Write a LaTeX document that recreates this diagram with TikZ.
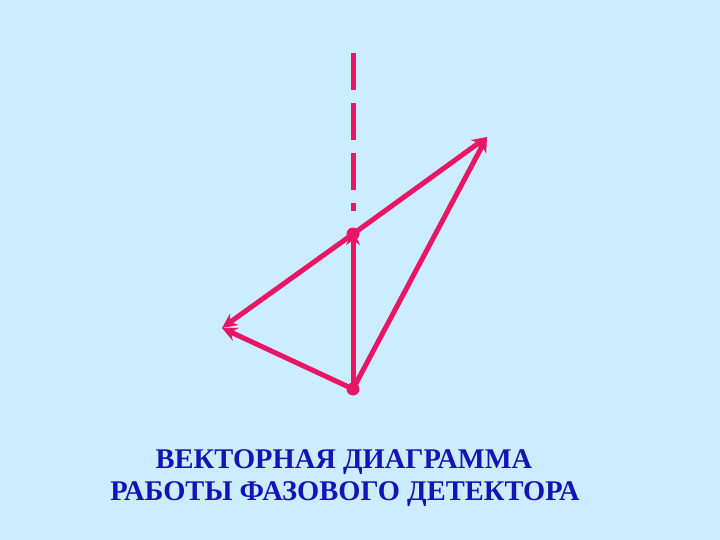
\documentclass[tikz,border=0pt]{standalone}
\usepackage{fontspec}
\setmainfont{Liberation Serif}
\usetikzlibrary{arrows.meta}
\definecolor{bg}{RGB}{204,236,255}
\definecolor{vec}{RGB}{232,22,100}
\definecolor{txt}{RGB}{20,20,180}
\tikzset{
  vecline/.style={draw=vec, line width=5pt, -{Stealth[length=15pt,width=14pt]}},
  plainline/.style={draw=vec, line width=5pt},
  dot/.style={circle, fill=vec, inner sep=0pt, minimum size=13pt},
  caption/.style={text=txt, font=\fontsize{28.5}{34}\selectfont\bfseries, align=center}
}
\begin{document}
\begin{tikzpicture}[x=1pt,y=-1pt]
\fill[bg] (0,0) rectangle (720,540);
\useasboundingbox (0,0) rectangle (720,540);
\coordinate (top) at (353,53);
\coordinate (dend) at (353,211);
\node[dot] (o1) at (353,234) {};
\node[dot] (o2) at (353,389) {};
\coordinate (r) at (487,137);
\coordinate (l) at (222,328);
\draw[plainline, dash pattern=on 37pt off 13pt] (top) -- (dend);
\draw[vecline] (o1.center) -- (r);
\draw[vecline] (o1.center) -- (l);
\draw[vecline] (o2.center) -- (l);
\draw[vecline] (o2.center) -- (r);
\draw[vecline] (o2.center) -- (353,230);
\node[caption, anchor=base] (t1) at (344,468) {ВЕКТОРНАЯ ДИАГРАММА};
\node[caption, anchor=base] (t2) at (345,500) {РАБОТЫ ФАЗОВОГО ДЕТЕКТОРА};
\end{tikzpicture}
\end{document}
